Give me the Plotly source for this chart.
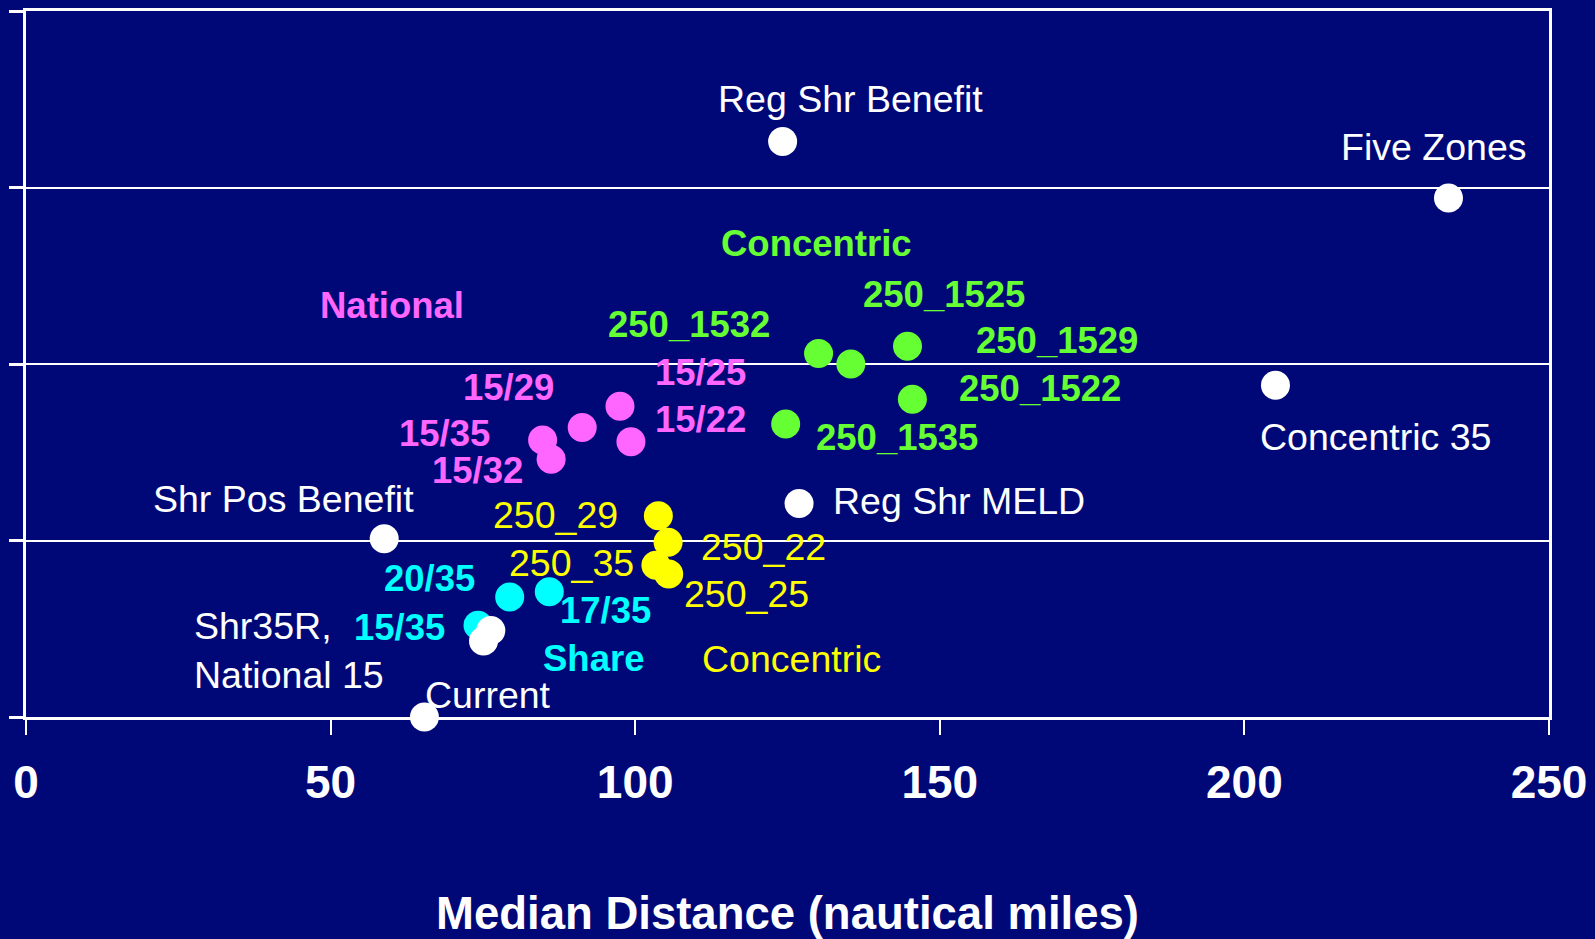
import plotly.graph_objects as go

# Median distance (x, nautical miles) vs. outcome score (y, gridline units) per allocation scenario
white_names = ["Reg Shr Benefit", "Five Zones", "Concentric 35", "Reg Shr MELD",
               "Shr Pos Benefit", "Shr35R", "National 15", "Current"]
white_x = [124.2, 233.5, 205.1, 126.9, 58.8, 76.3, 75.1, 65.4]
white_y = [3.26, 2.94, 1.88, 1.21, 1.01, 0.49, 0.43, 0.0]

green_names = ["250_1532", "250_1525", "250_1529", "250_1522", "250_1535"]
green_x = [130.1, 135.4, 144.7, 145.5, 124.7]
green_y = [2.06, 2.00, 2.10, 1.80, 1.66]

magenta_names = ["15/25", "15/29", "15/22", "15/35", "15/32"]
magenta_x = [97.5, 91.3, 99.3, 84.8, 86.2]
magenta_y = [1.76, 1.64, 1.56, 1.57, 1.46]

yellow_names = ["250_29", "250_22", "250_35", "250_25"]
yellow_x = [103.8, 105.4, 103.4, 105.5]
yellow_y = [1.14, 0.99, 0.86, 0.81]

cyan_names = ["20/35", "17/35", "15/35"]
cyan_x = [79.4, 85.9, 74.2]
cyan_y = [0.68, 0.71, 0.52]

x_ticks = [0, 50, 100, 150, 200, 250]

BG = "#000878"
WHITE = "#FFFFFF"
GREEN = "#66FF33"
MAGENTA = "#FF66FF"
YELLOW = "#FFFF00"
CYAN = "#00FFFF"
FONT = "Liberation Sans, Arial, sans-serif"
BOLD_SIZE = 36.5
PLAIN_SIZE = 37.5

fig = go.Figure()

groups = [
    (cyan_names, cyan_x, cyan_y, CYAN),
    (magenta_names, magenta_x, magenta_y, MAGENTA),
    (green_names, green_x, green_y, GREEN),
    (yellow_names, yellow_x, yellow_y, YELLOW),
    (white_names, white_x, white_y, WHITE),
]
for names, xs, ys, col in groups:
    fig.add_trace(go.Scatter(
        x=xs, y=ys, mode="markers", text=names, cliponaxis=False,
        marker=dict(size=29, color=col, line=dict(width=0)),
        hovertemplate="%{text}<br>%{x}<extra></extra>", showlegend=False))

# point label placement: name -> (dx px, dy px, xanchor, bold)
label_style = {
    "Reg Shr Benefit": (68, 43, "center", False),
    "Five Zones": (-14, 51, "center", False),
    "Concentric 35": (100, -52, "center", False),
    "Reg Shr MELD": (32, 2, "left", False),
    "Shr Pos Benefit": (-101, 40, "center", False),
    "Shr35R": (-299, -20, "left", False),
    "Current": (64, 22, "center", False),
    "250_1532": (-130, 29, "center", True),
    "250_1525": (93, 70, "center", True),
    "250_1529": (149, 6, "center", True),
    "250_1522": (128, 11, "center", True),
    "250_1535": (111, -13, "center", True),
    "15/25": (81, 34, "center", True),
    "15/29": (-74, 40, "center", True),
    "15/22": (70, 22, "center", True),
    "15/35": (-98, 6, "center", True),
    "15/32": (-74, -11, "center", True),
    "250_29": (-103, 1, "center", False),
    "250_22": (95, -5, "center", False),
    "250_35": (-84, 2, "center", False),
    "250_25": (78, -20, "center", False),
}
cyan_style = {
    "20/35": (-80, 18, "center", True),
    "17/35": (56, -19, "center", True),
    "15/35": (-79, -2, "center", True),
}
label_text = {"Shr35R": "Shr35R,<br>National 15"}

annotations = []
for names, xs, ys, col in groups:
    style = cyan_style if col == CYAN else label_style
    for n, x, y in zip(names, xs, ys):
        if n not in style:
            continue
        dx, dy, xa, bold = style[n]
        annotations.append(dict(
            x=x, y=y, xref="x", yref="y", text=label_text.get(n, n),
            showarrow=False, xshift=dx, yshift=dy, xanchor=xa, yanchor="middle",
            align="left",
            font=dict(family=FONT, size=BOLD_SIZE if bold else PLAIN_SIZE, color=col,
                      weight="bold" if bold else "normal")))

# group captions
captions = [
    ("Concentric", 129.7, 2.68, GREEN, True),
    ("National", 60.0, 2.33, MAGENTA, True),
    ("Share", 93.1, 0.33, CYAN, True),
    ("Concentric", 125.6, 0.33, YELLOW, False),
]
for t, x, y, col, bold in captions:
    annotations.append(dict(
        x=x, y=y, xref="x", yref="y", text=t, showarrow=False,
        xanchor="center", yanchor="middle",
        font=dict(family=FONT, size=BOLD_SIZE if bold else PLAIN_SIZE, color=col,
                  weight="bold" if bold else "normal")))

fig.update_layout(
    width=1595, height=939,
    margin=dict(l=26, r=46, t=11, b=222),
    paper_bgcolor=BG, plot_bgcolor=BG,
    annotations=annotations,
    xaxis=dict(
        range=[0, 250], tickvals=x_ticks, ticktext=[str(v) for v in x_ticks],
        showgrid=False, zeroline=False, automargin=False,
        showline=True, linecolor=WHITE, linewidth=3, mirror=True,
        ticks="outside", ticklen=15, tickwidth=2, tickcolor=WHITE,
        ticklabelstandoff=8,
        tickfont=dict(family=FONT, size=46, color=WHITE, weight="bold"),
        title=dict(text="Median Distance (nautical miles)", standoff=92,
                   font=dict(family=FONT, size=45.5, color=WHITE, weight="bold")),
    ),
    yaxis=dict(
        range=[0, 4], dtick=1, showticklabels=False, automargin=False,
        showgrid=True, gridcolor=WHITE, gridwidth=2, zeroline=False,
        showline=True, linecolor=WHITE, linewidth=3, mirror=True,
        ticks="outside", ticklen=14, tickwidth=3, tickcolor=WHITE,
    ),
)

fig.write_html("out.html")
